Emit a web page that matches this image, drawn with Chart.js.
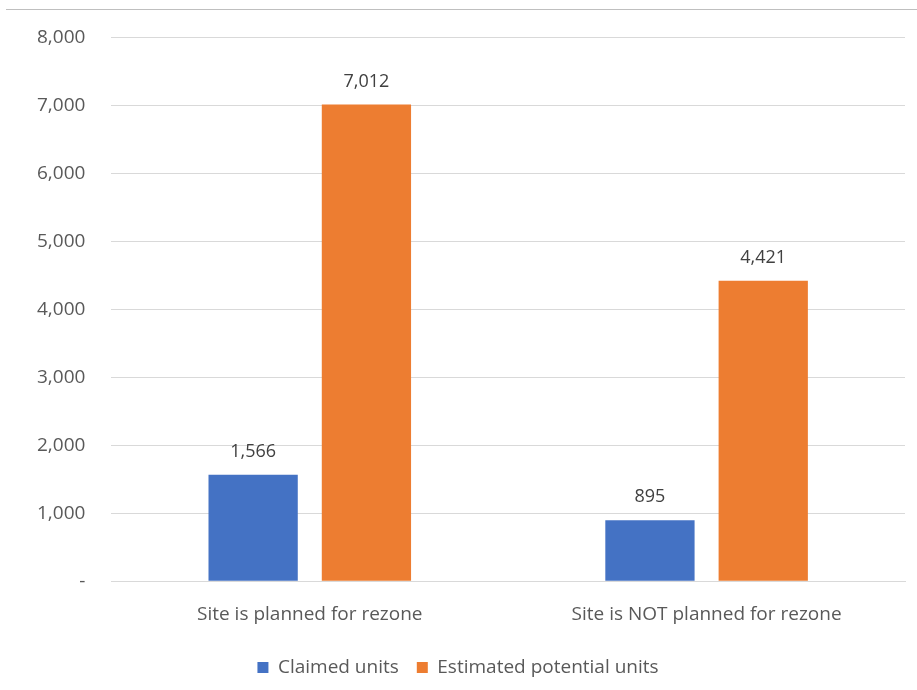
<!DOCTYPE html>
<html>
<head>
<meta charset="utf-8">
<script src="https://cdn.jsdelivr.net/npm/chart.js@4.4.1/dist/chart.umd.min.js"></script>
<style>
  html, body { margin: 0; padding: 0; background: #fff; }
  .wrap { position: relative; width: 917px; height: 690px; }
  .topline { position: absolute; left: 6px; right: 0; top: 9px; border-top: 1px solid #bfbfbf; }
  canvas { display: block; }
</style>
</head>
<body>
<div class="wrap">
  <div class="topline"></div>
  <canvas id="chart" width="917" height="690"></canvas>
</div>
<script>
const categories = ["Site is planned for rezone", "Site is NOT planned for rezone"];
const claimedUnits = [1566, 895];
const estimatedUnits = [7012, 4421];
const seriesNames = ["Claimed units", "Estimated potential units"];

const FONT = "'Open Sans', sans-serif";

// numbers above each bar
const barLabels = {
    id: "barLabels",
    afterDatasetsDraw(chart) {
        const ctx = chart.ctx;
        ctx.save();
        ctx.font = "18px " + FONT;
        ctx.fillStyle = "#404040";
        ctx.textAlign = "center";
        ctx.textBaseline = "middle";
        chart.data.datasets.forEach((ds, i) => {
            chart.getDatasetMeta(i).data.forEach((bar, j) => {
                ctx.fillText(ds.data[j].toLocaleString("en-US"), bar.x, bar.y - 23);
            });
        });
        ctx.restore();
    }
};

new Chart(document.getElementById("chart"), {
    type: "bar",
    data: {
        labels: categories,
        datasets: [
            { label: seriesNames[0], data: claimedUnits, backgroundColor: "#4472c4" },
            { label: seriesNames[1], data: estimatedUnits, backgroundColor: "#ed7d31" }
        ]
    },
    options: {
        responsive: false,
        animation: false,
        layout: { padding: { top: 27, right: 12, left: 11, bottom: 3 } },
        datasets: { bar: { categoryPercentage: 0.571, barPercentage: 0.788 } },
        scales: {
            x: {
                grid: { display: false },
                border: { color: "#d9d9d9" },
                ticks: { color: "#595959", font: { size: 19, family: FONT }, padding: 14 }
            },
            y: {
                min: 0, max: 8000,
                ticks: {
                    stepSize: 1000,
                    color: "#595959",
                    font: { size: 19, family: FONT },
                    padding: 26,
                    callback: v => v === 0 ? "-" : v.toLocaleString("en-US")
                },
                grid: { color: "#d9d9d9", lineWidth: 1, drawTicks: false },
                border: { display: false }
            }
        },
        plugins: {
            legend: {
                position: "bottom",
                labels: {
                    color: "#595959",
                    font: { size: 19, family: FONT },
                    boxWidth: 11, boxHeight: 11, padding: 18
                }
            },
            tooltip: { enabled: false }
        }
    },
    plugins: [barLabels]
});
</script>
</body>
</html>
